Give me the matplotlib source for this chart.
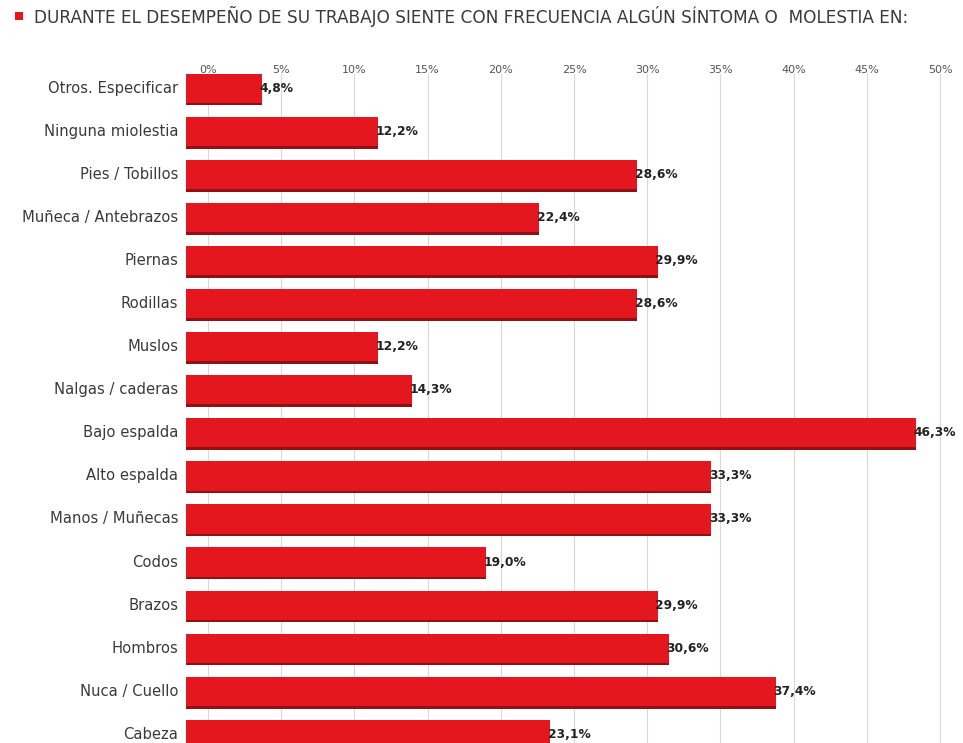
import matplotlib
matplotlib.use("Agg")
import matplotlib.pyplot as plt
from matplotlib.patches import Rectangle

categories = ["Otros. Especificar", "Ninguna miolestia", "Pies / Tobillos", "Muñeca / Antebrazos",
              "Piernas", "Rodillas", "Muslos", "Nalgas / caderas", "Bajo espalda", "Alto espalda",
              "Manos / Muñecas", "Codos", "Brazos", "Hombros", "Nuca / Cuello", "Cabeza"]
values = [4.8, 12.2, 28.6, 22.4, 29.9, 28.6, 12.2, 14.3, 46.3, 33.3, 33.3, 19.0, 29.9, 30.6, 37.4, 23.1]
tick_values = [0, 5, 10, 15, 20, 25, 30, 35, 40, 45, 50]
tick_labels = [f"{t}%" for t in tick_values]
title = "DURANTE EL DESEMPEÑO DE SU TRABAJO SIENTE CON FRECUENCIA ALGÚN SÍNTOMA O  MOLESTIA EN:"

W, H = 963, 743
fig = plt.figure(figsize=(W / 100, H / 100), dpi=100)
fig.patch.set_facecolor("white")

FONT = dict(family="DejaVu Sans")
TXT = "#3a3a3a"
RED = "#e5171e"
DARK = "#8e1116"

ax_l, ax_r, ax_t, ax_b = 186, 950, 74, 743
ax = fig.add_axes([ax_l / W, 1 - ax_b / H, (ax_r - ax_l) / W, (ax_b - ax_t) / H])
px_per = 15.77
ax.set_xlim(0, (ax_r - ax_l) / px_per)
ax.set_ylim(15.2, -0.33)
for s in ax.spines.values():
    s.set_visible(False)
ax.set_xticks([])
ax.set_yticks([])
ax.patch.set_alpha(0)

# top axis with tick labels and gridlines
ax2 = ax.twiny()
ax2.set_zorder(ax.get_zorder() - 1)
tick_px0, tick_scale = 208 - ax_l, 14.64
ax2.set_xlim(-tick_px0 / tick_scale, ((ax_r - ax_l) - tick_px0) / tick_scale)
ax2.set_xticks(tick_values)
ax2.set_xticklabels(tick_labels, fontsize=8, color="#555555", **FONT)
ax2.tick_params(axis="x", length=0, pad=-1)
ax2.grid(axis="x", color="#d9d9d9", linewidth=0.8)
for s in ax2.spines.values():
    s.set_visible(False)
ax2.set_yticks([])

ypos = list(range(len(categories)))
h = 0.72
# shadow / depth
ax.barh([y + 0.04 for y in ypos], values, height=h, color=DARK, zorder=2)
ax.barh(ypos, values, height=h - 0.04, color=RED, zorder=3, linewidth=0)

for y, v, c in zip(ypos, values, categories):
    ax.text(-0.5, y, c, ha="right", va="center", fontsize=10.6, color=TXT, clip_on=False, **FONT)
    ax.text(v - 0.15, y, f"{v:.1f}%".replace(".", ","), ha="left", va="center",
            fontsize=8.8, color="#222222", fontweight="bold", clip_on=False, **FONT)

# title with red square marker
fig.patches.append(Rectangle((15 / W, 1 - 20 / H), 8 / W, 8 / H, transform=fig.transFigure,
                             facecolor=RED, edgecolor="none"))
fig.text(34 / W, 1 - 16 / H, title, ha="left", va="center", fontsize=12.2, color=TXT, **FONT)

fig.savefig("out.png", dpi=100, facecolor="white")
